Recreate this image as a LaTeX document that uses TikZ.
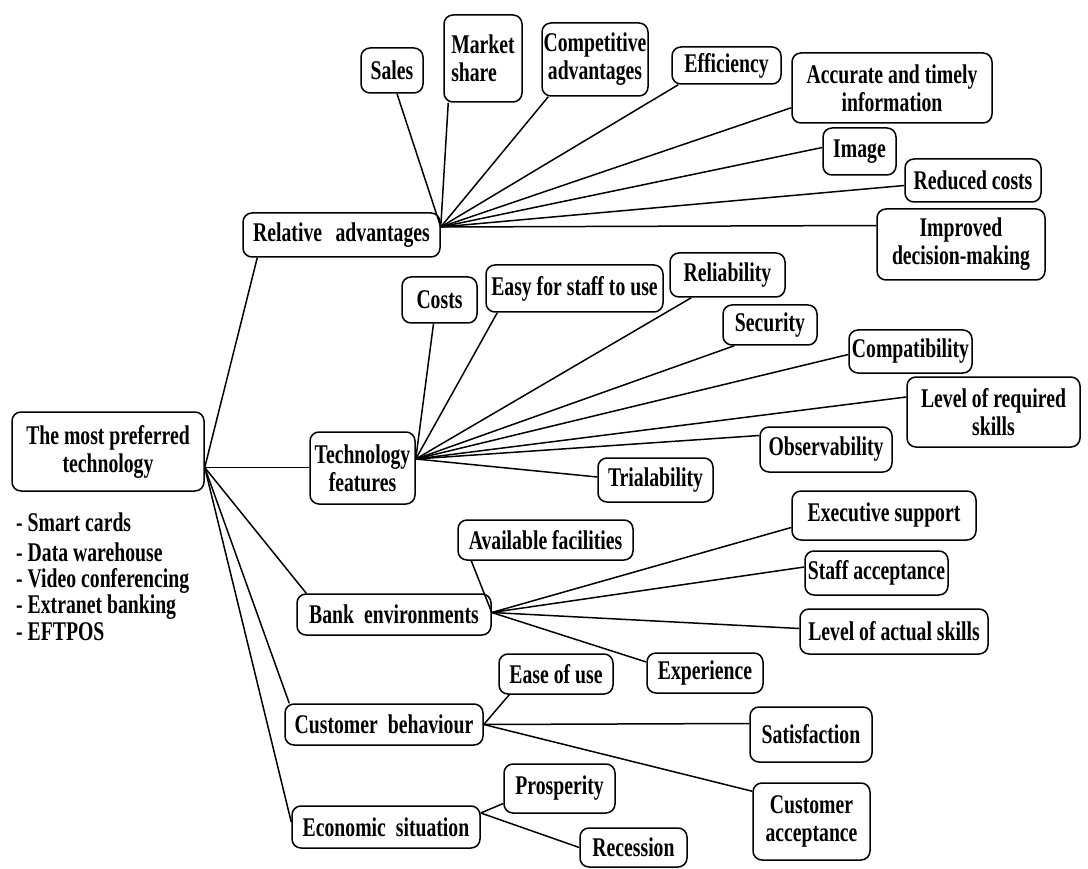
\documentclass[tikz,border=0pt]{standalone}
\usepackage{fontspec}
\setmainfont{Liberation Serif}[FakeStretch=0.73]
\begin{document}
\begin{tikzpicture}[x=1pt,y=-1pt,
  box/.style={draw, line width=1.5pt, rounded corners=9pt, align=center,
    inner sep=0pt, font=\bfseries\fontsize{27}{28}\selectfont},
  item/.style={anchor=base west, inner sep=0pt, font=\bfseries\fontsize{27}{28}\selectfont},
  link/.style={line width=1.5pt}]
\useasboundingbox (0,0) rectangle (1088,869);

% root and its list of technologies
\node[box, minimum width=192pt, minimum height=79pt] (root) at (108,451.5) {The most preferred\\technology};
\node[item] (t1) at (16,531) {- Smart cards};
\node[item] (t2) at (16,561) {- Data warehouse};
\node[item] (t3) at (16,587) {- Video conferencing};
\node[item] (t4) at (16,613) {- Extranet banking};
\node[item] (t5) at (16,640) {- EFTPOS};

% factor groups
\node[box, minimum width=197pt, minimum height=44pt] (rel) at (341.5,235) {Relative\enspace advantages};
\node[box, minimum width=105pt, minimum height=72pt] (tech) at (362.5,468) {Technology\\features};
\node[box, minimum width=194pt, minimum height=41pt] (bank) at (394,614.5) {Bank\hspace{0.37em}environments};
\node[box, minimum width=198pt, minimum height=41pt] (cust) at (384,724.5) {Customer\hspace{0.37em}behaviour};
\node[box, minimum width=188pt, minimum height=42pt] (econ) at (386,827) {Economic\hspace{0.37em}situation};

% relative advantages
\node[box, minimum width=62pt, minimum height=45pt] (sales) at (392,70.5) {Sales};
\node[box, minimum width=78pt, minimum height=87pt, align=left] (market) at (483,58.5) {Market\\share};
\node[box, minimum width=106pt, minimum height=73pt] (comp) at (595,59.5) {Competitive\\advantages};
\node[box, minimum width=109pt, minimum height=37pt] (eff) at (726.5,65.5) {Efficiency};
\node[box, minimum width=200pt, minimum height=70pt] (acc) at (892,88) {Accurate and timely\\information};
\node[box, minimum width=73pt, minimum height=47pt] (img) at (859.5,151.5) {Image};
\node[box, minimum width=136pt, minimum height=43pt] (red) at (973,180.5) {Reduced costs};
\node[box, minimum width=168pt, minimum height=71pt] (imp) at (961,244.5) {Improved\\decision-making};

% technology features
\node[box, minimum width=75pt, minimum height=46pt] (costs) at (439.5,300) {Costs};
\node[box, minimum width=177pt, minimum height=47pt] (easy) at (574.5,288.5) {Easy for staff to use};
\node[box, minimum width=115pt, minimum height=44pt] (reli) at (727.5,275) {Reliability};
\node[box, minimum width=94pt, minimum height=40pt] (sec) at (770,325) {Security};
\node[box, minimum width=123pt, minimum height=43pt] (compat) at (910.5,351.5) {Compatibility};
\node[box, minimum width=173pt, minimum height=70pt] (lreq) at (993.5,412) {Level of required\\skills};
\node[box, minimum width=132pt, minimum height=45pt] (obs) at (826,449.5) {Observability};
\node[box, minimum width=115pt, minimum height=44pt] (trial) at (655.5,480) {Trialability};

% bank environments
\node[box, minimum width=175pt, minimum height=40pt] (avail) at (545.5,540) {Available facilities};
\node[box, minimum width=184pt, minimum height=49pt] (exec) at (884,515.5) {Executive support};
\node[box, minimum width=143pt, minimum height=44pt] (staff) at (876.5,573) {Staff acceptance};
\node[box, minimum width=188pt, minimum height=45pt] (lact) at (894,631.5) {Level of actual skills};
\node[box, minimum width=116pt, minimum height=40pt] (exper) at (705,673) {Experience};

% customer behaviour
\node[box, minimum width=114pt, minimum height=40pt] (ease) at (556,674) {Ease of use};
\node[box, minimum width=122pt, minimum height=55pt] (satis) at (811,734.5) {Satisfaction};
\node[box, minimum width=117pt, minimum height=77pt] (cacc) at (811.5,821.5) {Customer\\acceptance};

% economic situation
\node[box, minimum width=111pt, minimum height=49pt] (prosp) at (559.5,788.5) {Prosperity};
\node[box, minimum width=107pt, minimum height=39pt] (rec) at (633.5,847.5) {Recession};

% hubs where the connectors meet
\coordinate (roothub) at ([yshift=-16pt]root.east);
\coordinate (relhub) at ([yshift=8pt]rel.east);
\coordinate (techhub) at ([yshift=9pt]tech.east);
\coordinate (bankhub) at ([yshift=2pt]bank.east);
\coordinate (custhub) at (cust.east);
\coordinate (econhub) at ([yshift=14pt]econ.east);

% root to groups
\draw[link] (roothub) -- ([xshift=15pt]rel.south west);
\draw[link] (roothub) -- (tech.west |- roothub);
\draw[link] (roothub) -- ([xshift=10pt]bank.north west);
\draw[link] (roothub) -- ([xshift=5pt]cust.north west);
\draw[link] (roothub) -- ([yshift=5pt]econ.west);

% relative advantages
\draw[link] (relhub) -- ([xshift=5pt]sales.south);
\draw[link] (relhub) -- ([xshift=5pt]market.south west);
\draw[link] (relhub) -- ([xshift=7pt]comp.south west);
\draw[link] (relhub) -- ([xshift=7pt]eff.south west);
\draw[link] (relhub) -- ([yshift=16pt]acc.south west);
\draw[link] (relhub) -- ([yshift=4pt]img.west);
\draw[link] (relhub) -- ([yshift=-5pt]red.west);
\draw[link] (relhub) -- ([yshift=19pt]imp.west);

% technology features
\draw[link] (techhub) -- ([xshift=-6pt]costs.south);
\draw[link] (techhub) -- ([xshift=12pt]easy.south west);
\draw[link] (techhub) -- ([xshift=22pt]reli.south west);
\draw[link] (techhub) -- ([xshift=12pt]sec.south west);
\draw[link] (techhub) -- ([yshift=-3pt]compat.west);
\draw[link] (techhub) -- ([yshift=15pt]lreq.west);
\draw[link] (techhub) -- ([yshift=14pt]obs.west);
\draw[link] (techhub) -- ([yshift=3pt]trial.west);

% bank environments
\draw[link] (bankhub) -- ([xshift=14pt]avail.south west);
\draw[link] (bankhub) -- ([yshift=-12pt]exec.west);
\draw[link] (bankhub) -- ([yshift=6pt]staff.west);
\draw[link] (bankhub) -- ([yshift=3pt]lact.west);
\draw[link] (bankhub) -- ([yshift=11pt]exper.west);

% customer behaviour
\draw[link] (custhub) -- ([xshift=11pt]ease.south west);
\draw[link] (custhub) -- ([yshift=11pt]satis.west);
\draw[link] (custhub) -- ([yshift=-9pt]cacc.north west);

% economic situation
\draw[link] (econhub) -- ([yshift=-15pt]prosp.west);
\draw[link] (econhub) -- (rec.west);
\end{tikzpicture}
\end{document}
